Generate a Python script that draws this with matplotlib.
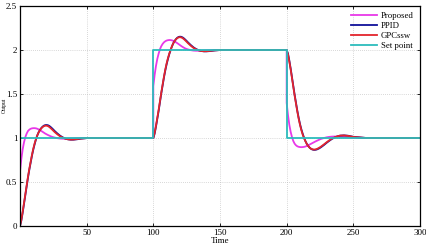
import numpy as np
import matplotlib
matplotlib.use("Agg")
import matplotlib.pyplot as plt

plt.rcParams['font.family'] = ['Liberation Serif', 'DejaVu Serif']

# sample times relative to each set-point change (first entry = value just before the step)
T_REL = [0, 0, 1, 2, 3, 4, 5, 6, 7, 8, 9, 10, 11, 12, 13, 14, 15, 16, 17, 18, 19, 20,
         21, 22, 23, 24, 25, 26, 28, 30, 32, 34, 36, 38, 40, 43, 46, 50, 60]
STEP_TIMES = [0, 100, 200]
T_END = 300

proposed_seg1 = [0.0, 0.62, 0.76, 0.87, 0.95, 1.01, 1.05, 1.08, 1.095, 1.105, 1.11, 1.112, 1.112,
                 1.11, 1.105, 1.098, 1.09, 1.08, 1.07, 1.06, 1.05, 1.042, 1.034, 1.027, 1.02, 1.014,
                 1.009, 1.005, 0.998, 0.994, 0.992, 0.992, 0.993, 0.995, 0.997, 0.999, 1.0, 1.0, 1.0]
proposed_seg2 = [1.0, 1.59, 1.72, 1.82, 1.90, 1.96, 2.01, 2.045, 2.07, 2.088, 2.1, 2.108, 2.112,
                 2.114, 2.113, 2.11, 2.104, 2.097, 2.088, 2.078, 2.067, 2.056, 2.045, 2.035, 2.026,
                 2.018, 2.012, 2.007, 1.999, 1.994, 1.992, 1.992, 1.993, 1.995, 1.997, 1.999, 2.0,
                 2.0, 2.0]
proposed_seg3 = [2.0, 1.4, 1.26, 1.15, 1.07, 1.01, 0.965, 0.935, 0.917, 0.906, 0.9, 0.897, 0.896,
                 0.897, 0.899, 0.903, 0.909, 0.916, 0.924, 0.932, 0.94, 0.948, 0.956, 0.964, 0.971,
                 0.978, 0.985, 0.991, 1.0, 1.008, 1.013, 1.016, 1.017, 1.017, 1.015, 1.012, 1.008,
                 1.004, 1.0]

ppid_seg1 = [0.0, 0.0, 0.06, 0.15, 0.25, 0.35, 0.45, 0.55, 0.64, 0.72, 0.80, 0.87, 0.93, 0.985,
             1.03, 1.065, 1.093, 1.114, 1.13, 1.141, 1.147, 1.148, 1.145, 1.137, 1.125, 1.111,
             1.096, 1.08, 1.052, 1.027, 1.008, 0.994, 0.985, 0.981, 0.981, 0.986, 0.993, 0.999, 1.0]
ppid_seg2 = [1.0, 1.0, 1.05, 1.13, 1.22, 1.31, 1.41, 1.51, 1.60, 1.69, 1.77, 1.84, 1.90, 1.955,
             2.0, 2.042, 2.077, 2.104, 2.125, 2.14, 2.149, 2.152, 2.15, 2.143, 2.132, 2.118,
             2.103, 2.087, 2.058, 2.032, 2.012, 1.998, 1.989, 1.985, 1.985, 1.989, 1.995, 2.0, 2.0]
ppid_seg3 = [2.0, 2.0, 1.96, 1.88, 1.79, 1.69, 1.59, 1.49, 1.40, 1.31, 1.23, 1.16, 1.10, 1.05,
             1.005, 0.968, 0.937, 0.913, 0.894, 0.88, 0.871, 0.866, 0.865, 0.867, 0.872, 0.879,
             0.888, 0.898, 0.921, 0.946, 0.969, 0.99, 1.006, 1.018, 1.027, 1.03, 1.026, 1.014, 1.0]

gpc_seg1 = [0.0, 0.0, 0.07, 0.16, 0.26, 0.36, 0.46, 0.56, 0.65, 0.73, 0.81, 0.88, 0.94, 0.99,
            1.03, 1.065, 1.09, 1.11, 1.125, 1.135, 1.14, 1.14, 1.135, 1.125, 1.112, 1.098, 1.083,
            1.068, 1.042, 1.02, 1.004, 0.992, 0.985, 0.982, 0.983, 0.988, 0.994, 0.999, 1.0]
gpc_seg2 = [1.0, 1.0, 1.06, 1.14, 1.23, 1.32, 1.42, 1.52, 1.61, 1.70, 1.78, 1.85, 1.91, 1.96,
            2.005, 2.045, 2.078, 2.103, 2.122, 2.136, 2.144, 2.146, 2.143, 2.135, 2.123, 2.109,
            2.094, 2.078, 2.05, 2.026, 2.008, 1.996, 1.989, 1.986, 1.987, 1.991, 1.996, 2.0, 2.0]
gpc_seg3 = [2.0, 2.0, 1.95, 1.87, 1.78, 1.68, 1.58, 1.48, 1.39, 1.30, 1.22, 1.15, 1.09, 1.04,
            1.0, 0.965, 0.935, 0.912, 0.894, 0.881, 0.873, 0.869, 0.869, 0.872, 0.878, 0.886,
            0.895, 0.905, 0.928, 0.952, 0.974, 0.993, 1.008, 1.019, 1.027, 1.029, 1.024, 1.012, 1.0]

setpoint_t = [0, 100, 200, 300]
setpoint_v = [1, 2, 1, 1]

labels = ['Proposed', 'PPID', 'GPCssw', 'Set point']
colors = ['#e838e8', '#10109a', '#e3242c', '#2cbcbc']


def build(segs):
    t, v = [], []
    for st, seg in zip(STEP_TIMES, segs):
        t.extend([st + r for r in T_REL])
        v.extend(seg)
    t.append(T_END)
    v.append(v[-1])
    return np.array(t, float), np.array(v, float)


series = [build([proposed_seg1, proposed_seg2, proposed_seg3]),
          build([ppid_seg1, ppid_seg2, ppid_seg3]),
          build([gpc_seg1, gpc_seg2, gpc_seg3])]

fig = plt.figure(figsize=(4.27, 2.52), dpi=100)
ax = fig.add_axes([0.0468, 0.1032, 0.9368, 0.8728])

for (t, v), lab, c in zip(series, labels[:3], colors[:3]):
    ax.plot(t, v, color=c, lw=1.3, label=lab)
ax.plot(setpoint_t, setpoint_v, drawstyle='steps-post', color=colors[3], lw=1.3, label=labels[3])

ax.set_xlim(0, 300)
ax.set_ylim(0, 2.5)
ax.set_xticks([0, 50, 100, 150, 200, 250, 300])
ax.set_xticklabels(['', '50', '100', '150', '200', '250', '300'])
ax.set_yticks([0, 0.5, 1, 1.5, 2, 2.5])
ax.set_yticklabels(['0', '0.5', '1', '1.5', '2', '2.5'])
ax.tick_params(direction='in', length=2.5, width=0.6, labelsize=6.5, pad=2,
               top=True, right=True)
ax.grid(True, linestyle=(0, (1, 2)), color='#b4b4b4', lw=0.5)
for s in ax.spines.values():
    s.set_linewidth(0.9)
ax.set_xlabel('Time', fontsize=6.5, labelpad=0.5)
ax.set_ylabel('Output', fontsize=4)
ax.yaxis.set_label_coords(-0.033, 0.55)

ax.legend(loc='upper right', frameon=False, fontsize=6.3, handlelength=3.0,
          handletextpad=0.4, labelspacing=0.2, borderaxespad=0.3)

fig.savefig('out.png', dpi=100)
